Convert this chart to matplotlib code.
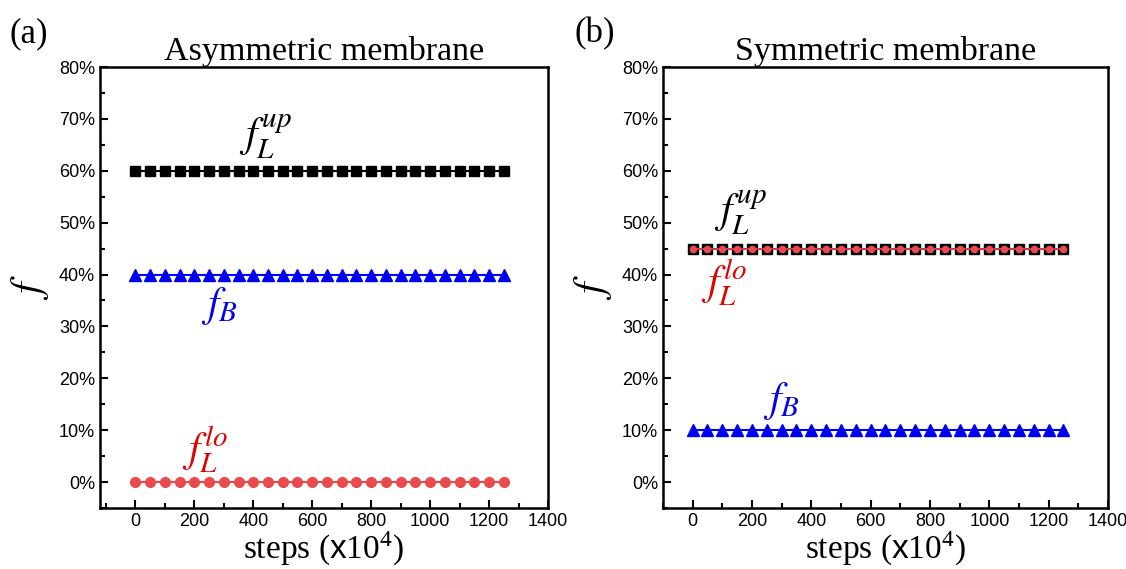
import numpy as np
import matplotlib.pyplot as plt
from matplotlib.ticker import MultipleLocator, PercentFormatter

plt.rcParams['mathtext.fontset'] = 'custom'
plt.rcParams['mathtext.rm'] = 'Liberation Serif'
plt.rcParams['mathtext.it'] = 'STIXGeneral:italic'
plt.rcParams['mathtext.bf'] = 'Liberation Serif:bold'
plt.rcParams['mathtext.sf'] = 'Liberation Sans'
plt.rcParams['font.family'] = 'Liberation Sans'

# data: simulation steps (x10^4) and fractions (%)
steps = [0, 50, 100, 150, 200, 250, 300, 350, 400, 450, 500, 550, 600,
         650, 700, 750, 800, 850, 900, 950, 1000, 1050, 1100, 1150, 1200, 1250]
asym_up = [60] * 26
asym_b = [40] * 26
asym_lo = [0] * 26
sym_up = [45] * 26
sym_b = [10] * 26
sym_lo = [45] * 26

red = '#e84a4d'
blue = '#0000f0'
serif = 'Liberation Serif'

fig = plt.figure(figsize=(11.26, 5.69), dpi=100)
ax1 = fig.add_axes([0.0888, 0.1072, 0.3979, 0.775])
ax2 = fig.add_axes([0.5888, 0.1072, 0.3952, 0.775])

ax1.plot(steps, asym_up, color='black', marker='s', ms=6.5, lw=1.5)
ax1.plot(steps, asym_b, color=blue, marker='^', ms=8, lw=1.5)
ax1.plot(steps, asym_lo, color=red, marker='o', ms=7, lw=1.5)

ax2.plot(steps, sym_up, color='black', marker='s', ms=6.5, lw=1.5)
ax2.plot(steps, sym_lo, color=red, marker='o', ms=4.5, lw=1.2)
ax2.plot(steps, sym_b, color=blue, marker='^', ms=8, lw=1.5)

for ax, xmin in ((ax1, -120), (ax2, -100)):
    ax.set_xlim(xmin, 1400)
    ax.set_ylim(-5, 80)
    ax.xaxis.set_major_locator(MultipleLocator(200))
    ax.xaxis.set_minor_locator(MultipleLocator(100))
    ax.yaxis.set_major_locator(MultipleLocator(10))
    ax.yaxis.set_minor_locator(MultipleLocator(5))
    ax.yaxis.set_major_formatter(PercentFormatter(xmax=100, decimals=0))
    ax.tick_params(which='both', direction='in', width=1.5, labelsize=13,
                   top=False, right=False)
    ax.tick_params(which='major', length=6)
    ax.tick_params(which='minor', length=3.5)
    for s in ax.spines.values():
        s.set_linewidth(1.8)
    ax.set_xlabel(r'steps ($\mathsf{x}$10$^4$)', family=serif, fontsize=24, labelpad=-0.5)
    ax.set_ylabel(r'$f$', fontsize=30, labelpad=6)

ax1.set_title('Asymmetric membrane', family=serif, fontsize=24.5, pad=5)
ax2.set_title('Symmetric membrane', family=serif, fontsize=24.5, pad=5)

fig.text(0.008, 0.925, '(a)', family=serif, fontsize=25)
fig.text(0.51, 0.925, '(b)', family=serif, fontsize=25)

ax1.text(440, 66.7, r'$f_L^{up}$', color='black', fontsize=30, ha='center', va='center')
ax1.text(285, 34, r'$f_B$', color=blue, fontsize=30, ha='center', va='center')
ax1.text(235, 6.4, r'$f_L^{lo}$', color='#e00000', fontsize=30, ha='center', va='center')

ax2.text(160, 52, r'$f_L^{up}$', color='black', fontsize=30, ha='center', va='center')
ax2.text(105, 38.5, r'$f_L^{lo}$', color='#e00000', fontsize=30, ha='center', va='center')
ax2.text(300, 15.6, r'$f_B$', color=blue, fontsize=30, ha='center', va='center')

fig.savefig('out.png', dpi=100)
